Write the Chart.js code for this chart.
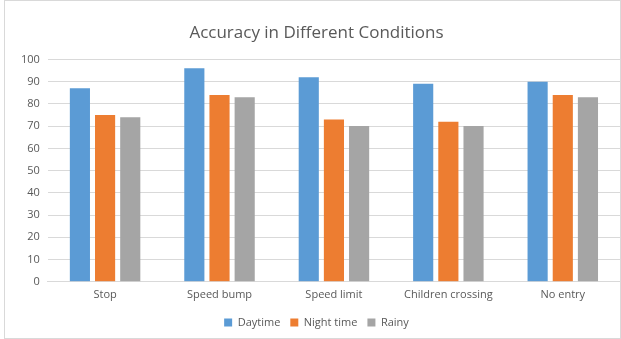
<!DOCTYPE html>
<html>
<head>
<meta charset="utf-8">
<script src="https://cdn.jsdelivr.net/npm/chart.js@4"></script>
<style>
  html, body { margin: 0; padding: 0; background: #fff; }
  #wrap { position: absolute; left: 4px; top: 0; width: 615px; height: 337px; border: 1px solid #d9d9d9; }
</style>
</head>
<body>
<div id="wrap"><canvas id="chart" width="615" height="337"></canvas></div>
<script>
/* Accuracy per sign and condition */
const categories = ['Stop', 'Speed bump', 'Speed limit', 'Children crossing', 'No entry'];
const daytime = [87, 96, 92, 89, 90];
const nightTime = [75, 84, 73, 72, 84];
const rainy = [74, 83, 70, 70, 83];

const textColor = '#595959';
const gridColor = '#d9d9d9';
const font = "'Open Sans', 'Liberation Sans', sans-serif";

new Chart(document.getElementById('chart'), {
  type: 'bar',
  data: {
    labels: categories,
    datasets: [
      { label: 'Daytime', data: daytime, backgroundColor: '#5b9bd5' },
      { label: 'Night time', data: nightTime, backgroundColor: '#ed7d31' },
      { label: 'Rainy', data: rainy, backgroundColor: '#a5a5a5' },
    ]
  },
  options: {
    responsive: false,
    animation: false,
    layout: { padding: { left: 8, right: 0, top: 4, bottom: 0 } },
    datasets: { bar: { categoryPercentage: 0.66, barPercentage: 0.8 } },
    plugins: {
      title: {
        display: true,
        text: 'Accuracy in Different Conditions',
        color: textColor,
        font: { family: font, size: 17, weight: 'normal' },
        padding: { top: 18, bottom: 16 }
      },
      legend: {
        position: 'bottom',
        labels: {
          color: textColor,
          font: { family: font, size: 11 },
          boxWidth: 8,
          boxHeight: 8,
          padding: 10
        }
      },
      tooltip: { enabled: false }
    },
    scales: {
      x: {
        grid: { display: true, drawOnChartArea: false, drawTicks: false },
        border: { color: gridColor },
        ticks: { color: textColor, font: { family: font, size: 11 }, padding: 6 }
      },
      y: {
        min: 0,
        max: 100,
        ticks: { stepSize: 10, color: textColor, font: { family: font, size: 11 }, padding: 8 },
        grid: { color: gridColor, drawTicks: false },
        border: { display: false }
      }
    }
  }
});
</script>
</body>
</html>
